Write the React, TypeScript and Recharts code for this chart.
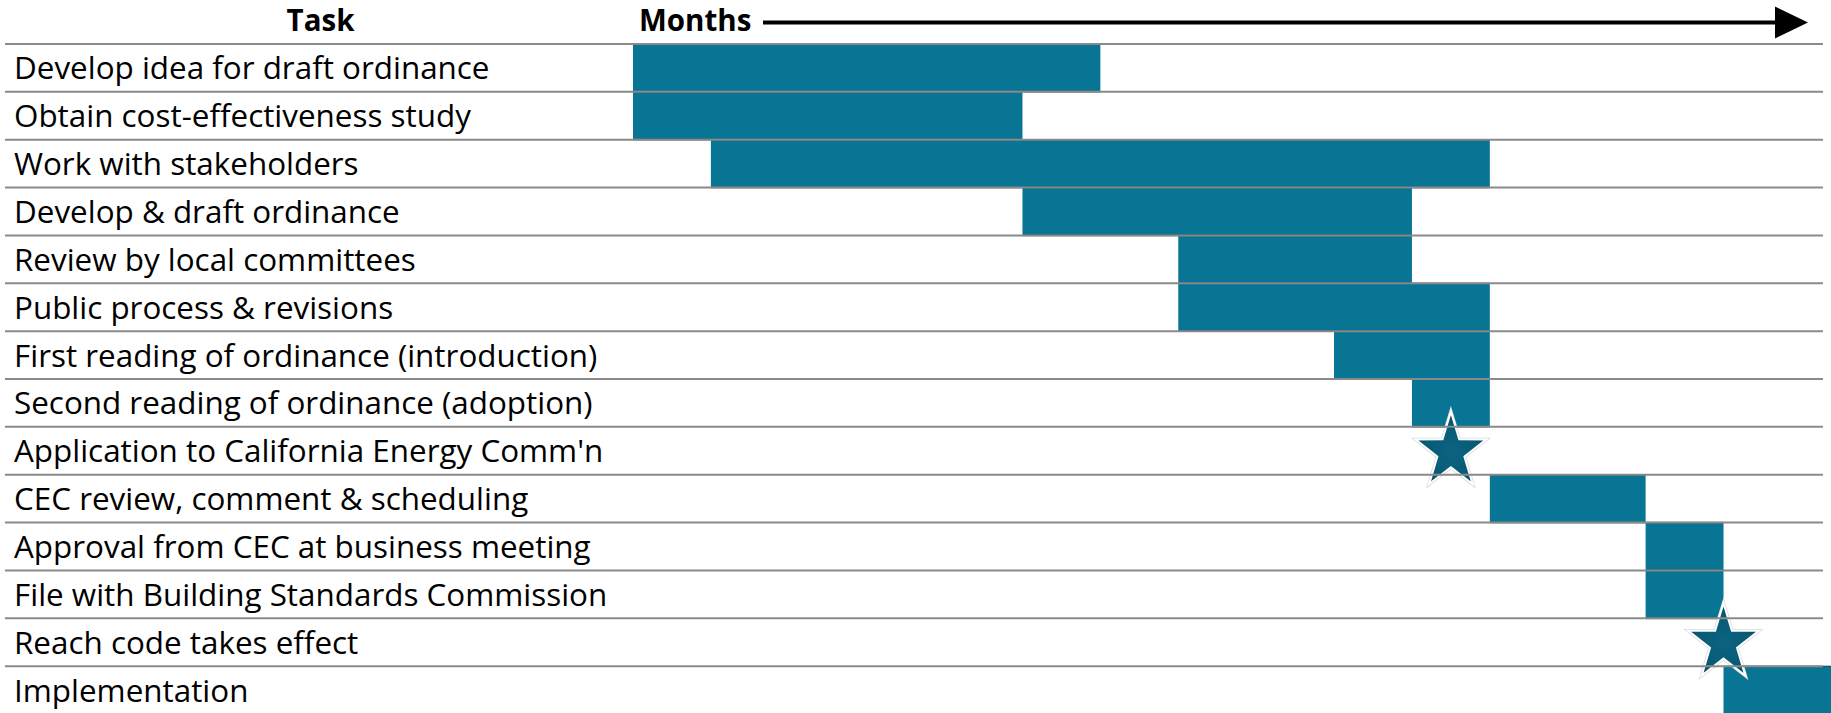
import React from 'react';
import { ComposedChart, Bar, Scatter, XAxis, YAxis } from 'recharts';

const tasks: string[] = [
  'Develop idea for draft ordinance',
  'Obtain cost-effectiveness study',
  'Work with stakeholders',
  'Develop & draft ordinance',
  'Review by local committees',
  'Public process & revisions',
  'First reading of ordinance (introduction)',
  'Second reading of ordinance (adoption)',
  "Application to California Energy Comm'n",
  'CEC review, comment & scheduling',
  'Approval from CEC at business meeting',
  'File with Building Standards Commission',
  'Reach code takes effect',
  'Implementation',
];

// start / end month of each task bar (null = milestone only)
const startMonths: (number | null)[] = [0, 0, 1, 5, 7, 7, 9, 10, null, 11, 13, 13, null, 14];
const endMonths: (number | null)[] = [6, 5, 11, 10, 10, 11, 11, 11, null, 13, 14, 14, null, 16];
// milestone (star) month
const milestoneMonths: (number | null)[] = [null, null, null, null, null, null, null, null, 10.5, null, null, null, 14, null];

const visibleMonths = 15.38;

const data = tasks.map((task, i) => ({
  task,
  range: startMonths[i] != null && endMonths[i] != null ? [startMonths[i], endMonths[i]] : null,
  milestone: milestoneMonths[i],
}));

const FONT = '"Open Sans", Lato, sans-serif';
const BAR_COLOR = '#087594';

const TaskTick = (props: any) => {
  const { y, payload, index, height } = props;
  const half = payload && payload.offset ? payload.offset : height / tasks.length / 2;
  const lineProps = { x1: 5, x2: 1823, stroke: '#8a8a8a', strokeWidth: 2 };
  return (
    <g>
      {index === 0 && <line {...lineProps} y1={y - half} y2={y - half} />}
      <line {...lineProps} y1={y + half} y2={y + half} />
      <text x={14} y={y} dy={11.5} fontFamily={FONT} fontSize={31.4} fill="#000" textAnchor="start">
        {payload.value}
      </text>
    </g>
  );
};

const BarShape = (props: any) => {
  const { x, y, width, height } = props;
  if (width == null || !(width > 0) || height == null) return <g />;
  const edge = { stroke: 'rgba(0,0,0,0.42)', strokeWidth: 1.5 };
  return (
    <g>
      <rect x={x} y={y} width={width} height={height} fill={BAR_COLOR} />
      <line x1={x} x2={x + width} y1={y} y2={y} {...edge} />
      <line x1={x} x2={x + width} y1={y + height} y2={y + height} {...edge} />
    </g>
  );
};

const StarShape = (props: any) => {
  const { cx, cy, payload, index } = props;
  if (cx == null || cy == null || !payload || payload.milestone == null || isNaN(cx)) return <g />;
  const rx = 37;
  const ry = 40;
  const pts: string[] = [];
  for (let k = 0; k < 10; k++) {
    const a = -Math.PI / 2 + (k * Math.PI) / 5;
    const r = k % 2 === 0 ? 1 : 0.385;
    pts.push(`${cx + r * rx * Math.cos(a)},${cy + 1 + r * ry * Math.sin(a)}`);
  }
  const id = `starGrad${index}`;
  return (
    <g>
      <defs>
        <radialGradient id={id} cx="50%" cy="55%" r="55%">
          <stop offset="0%" stopColor="#0a6481" />
          <stop offset="70%" stopColor="#095a74" />
          <stop offset="100%" stopColor="#05445a" />
        </radialGradient>
      </defs>
      <polygon points={pts.join(' ')} fill="none" stroke="#d5dde0" strokeWidth={3.5} strokeLinejoin="miter" />
      <polygon points={pts.join(' ')} fill={`url(#${id})`} stroke="#ffffff" strokeWidth={2} strokeLinejoin="miter" />
    </g>
  );
};

const Header = (props: any) => {
  const vb = props.viewBox || { x: 633, y: 0, width: 1198, height: 44 };
  const midY = 22.5;
  const tipX = vb.x + vb.width - 23;
  const headBase = tipX - 33;
  return (
    <g>
      <text x={vb.x / 2 + 4} y={31} textAnchor="middle" fontFamily={FONT} fontWeight={700} fontSize={29.5} fill="#000">
        Task
      </text>
      <text x={vb.x + 6} y={31} textAnchor="start" fontFamily={FONT} fontWeight={700} fontSize={29.5} fill="#000">
        Months
      </text>
      <line x1={vb.x + 130} x2={headBase + 2} y1={midY} y2={midY} stroke="#000" strokeWidth={4} />
      <polygon points={`${headBase},${midY - 16} ${tipX},${midY} ${headBase},${midY + 16}`} fill="#000" />
    </g>
  );
};

export default function App() {
  return (
    <div style={{ position: 'absolute', left: 0, top: 0, width: 1831, height: 713, overflow: 'hidden', background: '#fff' }}>
      <ComposedChart
        width={1831}
        height={714}
        data={data}
        layout="vertical"
        margin={{ top: 0, right: 0, bottom: 0, left: 0 }}
        barCategoryGap={0}
        barGap={0}
      >
        <XAxis
          type="number"
          orientation="top"
          domain={[0, visibleMonths]}
          allowDataOverflow
          height={44}
          tick={false}
          axisLine={false}
          tickLine={false}
          label={<Header />}
        />
        <YAxis
          type="category"
          dataKey="task"
          width={633}
          interval={0}
          axisLine={false}
          tickLine={false}
          tick={<TaskTick />}
        />
        <Bar dataKey="range" shape={<BarShape />} isAnimationActive={false} />
        <Scatter dataKey="milestone" shape={<StarShape />} isAnimationActive={false} />
      </ComposedChart>
    </div>
  );
}
